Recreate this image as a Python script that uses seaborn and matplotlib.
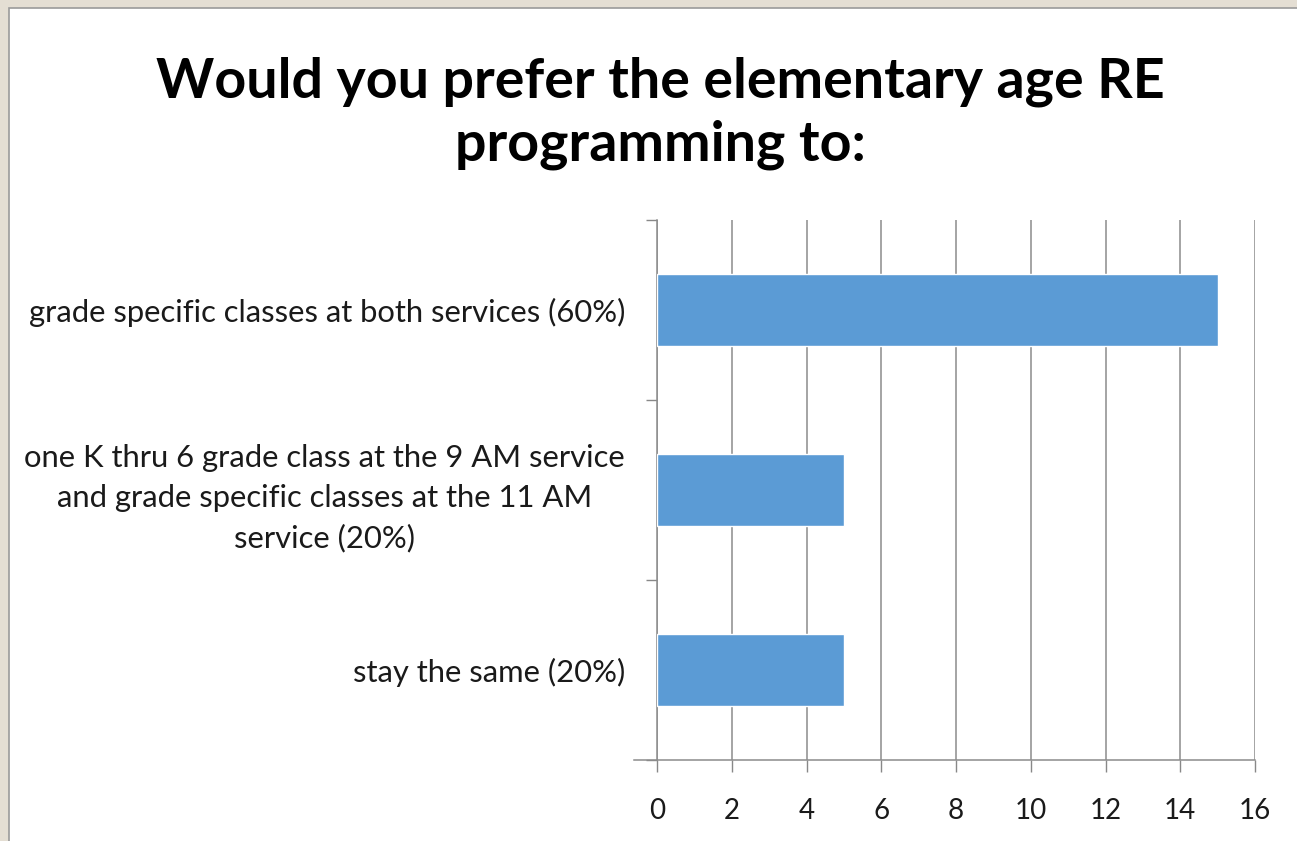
import matplotlib
matplotlib.use("Agg")
import matplotlib.pyplot as plt
from matplotlib.patches import Rectangle
import seaborn as sns
import pandas as pd

# Survey responses
categories = [
    "grade specific classes at both services (60%)",
    "one K thru 6 grade class at the 9 AM service\nand grade specific classes at the 11 AM\nservice (20%)",
    "stay the same (20%)",
]
counts = [15, 5, 5]
x_ticks = [0, 2, 4, 6, 8, 10, 12, 14, 16]
title = "Would you prefer the elementary age RE\nprogramming to:"

sns.set_theme(style="white")
plt.rcParams["font.family"] = ["Lato", "DejaVu Sans"]

W, H, DPI = 1297, 841, 100
fig = plt.figure(figsize=(W / DPI, H / DPI), dpi=DPI, facecolor="#E4DED3")

# white chart area with thin gray border
fig.patches.append(Rectangle((9 / W, -0.01), 1.02, 1 - 8 / H + 0.01,
                             transform=fig.transFigure, facecolor="white",
                             edgecolor="#9a9a9a", linewidth=1.2, zorder=-5))

ax = fig.add_axes([657 / W, 1 - 760 / H, (1255 - 657) / W, (760 - 220) / H])
ax.set_facecolor("none")
ax.set_zorder(2)

df = pd.DataFrame({"category": categories, "count": counts})
sns.barplot(data=df, x="count", y="category", orient="h", color="#5B9BD5",
            saturation=1, width=0.4, ax=ax, zorder=3)

ax.set_xlim(0, 16)
ax.set_ylim(2.5, -0.5)
ax.set_xticks(x_ticks)
ax.set_xticklabels([str(t) for t in x_ticks], fontsize=20, color="#1a1a1a")
ax.set_xlabel("")
ax.set_ylabel("")

# category labels centered on bars, ticks at category boundaries
ax.set_yticks(range(len(categories)))
ax.set_yticklabels(categories, fontsize=22.3, color="#1a1a1a", multialignment="center")
for lbl in ax.get_yticklabels():
    lbl.set_linespacing(1.5)
ax.set_yticks([-0.5, 0.5, 1.5, 2.5], minor=True)
ax.tick_params(axis="y", which="major", length=0, pad=23)
ax.tick_params(axis="y", which="minor", length=8, width=1.0, color="#888888", left=True, direction="out")
ax.tick_params(axis="x", which="major", length=8.6, width=1.0, color="#888888", bottom=True, direction="out", pad=19)

ax.grid(axis="x", color="#8c8c8c", linewidth=1.1, zorder=0)
ax.grid(axis="y", visible=False)
ax.set_axisbelow(True)
for side in ["top", "right"]:
    ax.spines[side].set_visible(False)
for side in ["left", "bottom"]:
    ax.spines[side].set_color("#8c8c8c")
    ax.spines[side].set_linewidth(1.1)
ax.spines["bottom"].set_bounds(-0.62, 16)

fig.text(660 / W, 1 - 160 / H, title, ha="center", va="baseline", fontsize=40,
         fontweight="bold", color="black", linespacing=1.3)

fig.savefig("out.png", dpi=DPI, facecolor=fig.get_facecolor())
